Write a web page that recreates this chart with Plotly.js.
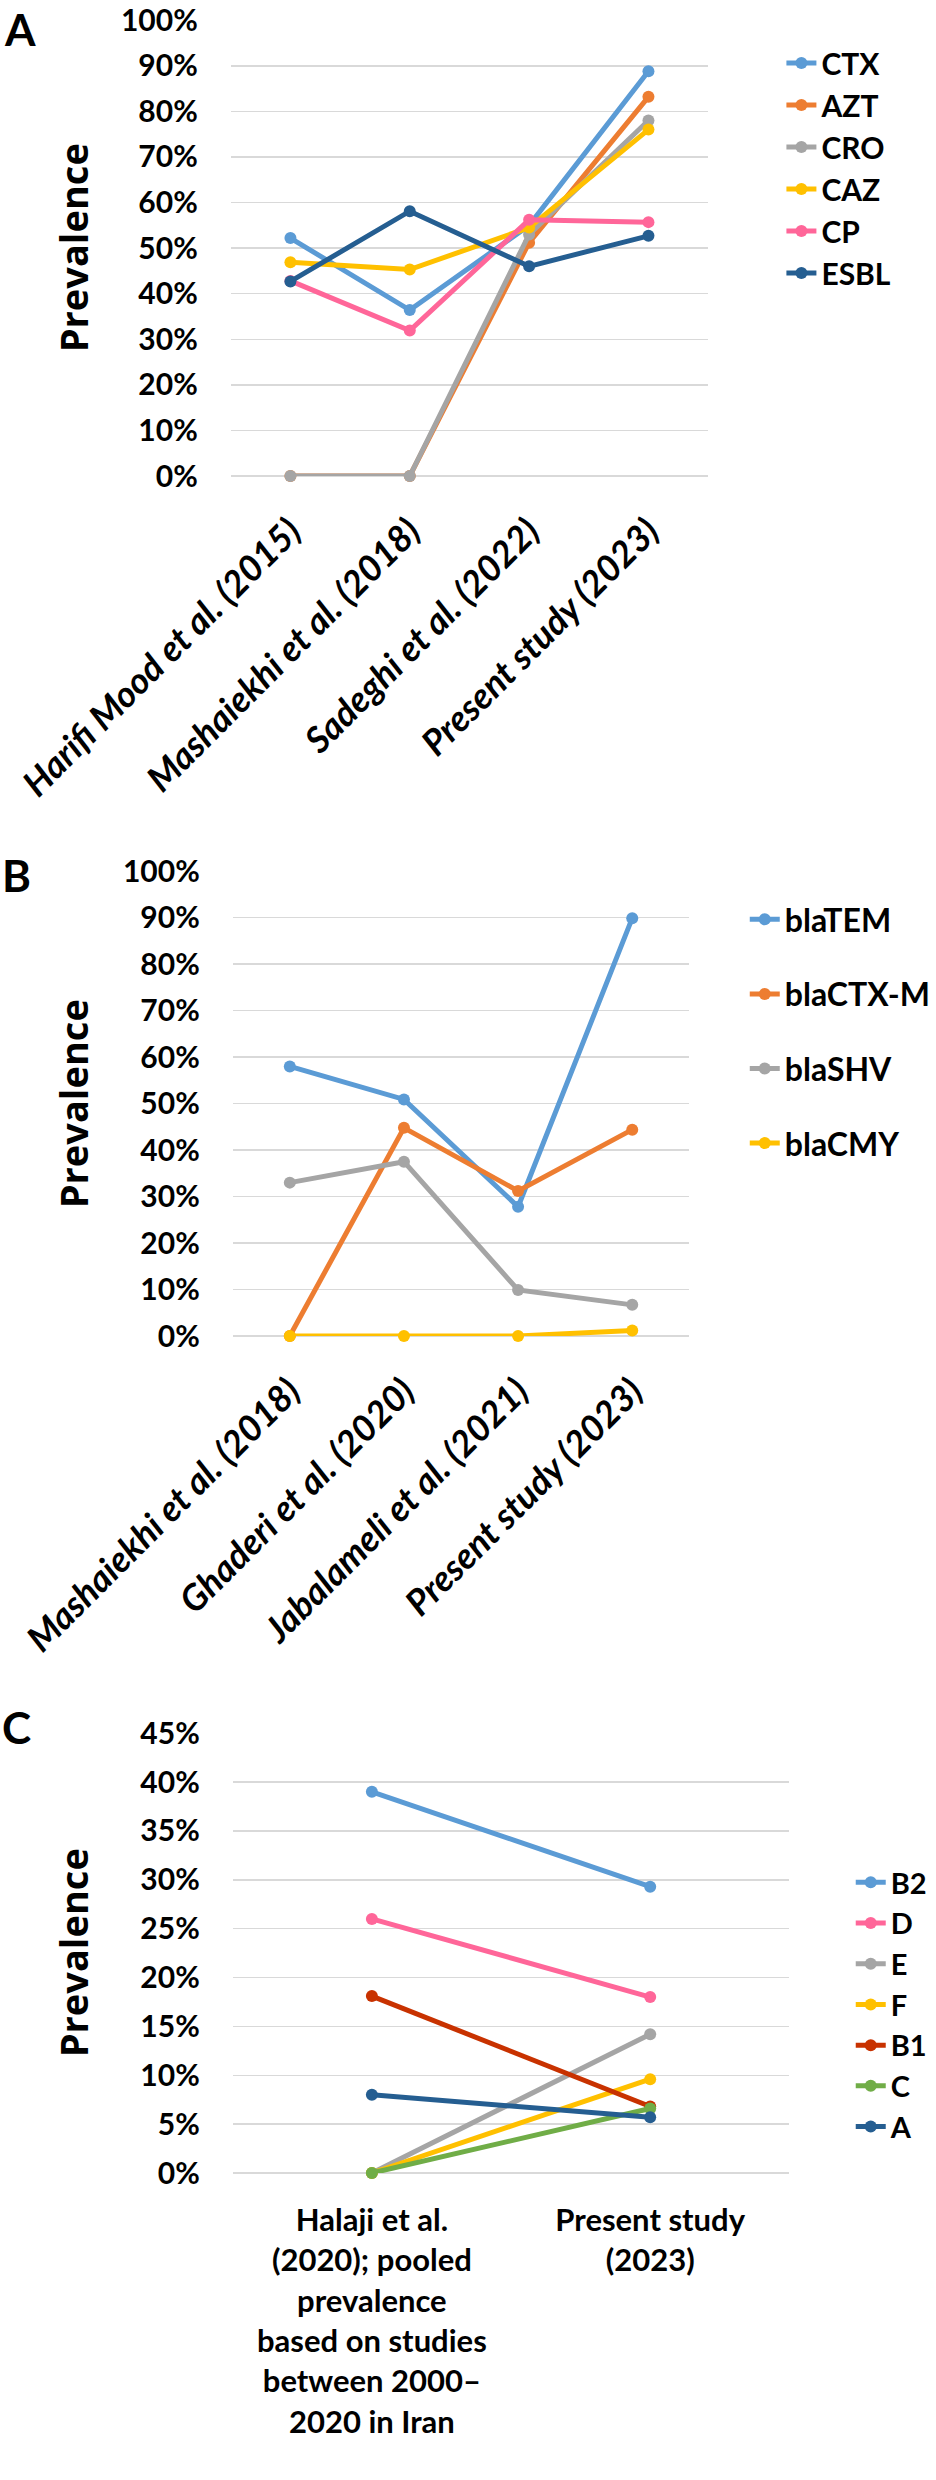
<!DOCTYPE html>
<html>
<head>
<meta charset="utf-8">
<script src="https://cdn.plot.ly/plotly-3.0.1.min.js"></script>
<style>html,body{margin:0;padding:0;background:#fff}</style>
</head>
<body>
<div id="chart" style="width:936px;height:2480px"></div>
<script>
// ---------- Panel A data ----------
const catsA = ['Harifi Mood et al. (2015)', 'Mashaiekhi et al. (2018)', 'Sadeghi et al. (2022)', 'Present study (2023)'];
const namesA = ['CTX', 'AZT', 'CRO', 'CAZ', 'CP', 'ESBL'];
const CTX  = [0.522, 0.364, 0.55, 0.888];
const AZT  = [0, 0, 0.512, 0.832];
const CRO  = [0, 0, 0.53, 0.78];
const CAZ  = [0.469, 0.453, 0.545, 0.76];
const CP   = [0.428, 0.319, 0.562, 0.557];
const ESBL = [0.427, 0.581, 0.46, 0.527];
const valuesA = [CTX, AZT, CRO, CAZ, CP, ESBL];
const colorsA = ['#5B9BD5', '#ED7D31', '#A5A5A5', '#FFC000', '#FF6699', '#255E91'];

// ---------- Panel B data ----------
const catsB = ['Mashaiekhi et al. (2018)', 'Ghaderi et al. (2020)', 'Jabalameli et al. (2021)', 'Present study (2023)'];
const namesB = ['blaTEM', 'blaCTX-M', 'blaSHV', 'blaCMY'];
const blaTEM  = [0.58, 0.509, 0.278, 0.899];
const blaCTXM = [0, 0.448, 0.312, 0.444];
const blaSHV  = [0.33, 0.375, 0.099, 0.067];
const blaCMY  = [0, 0, 0, 0.012];
const valuesB = [blaTEM, blaCTXM, blaSHV, blaCMY];
const colorsB = ['#5B9BD5', '#ED7D31', '#A5A5A5', '#FFC000'];

// ---------- Panel C data ----------
const catsC = ['Halaji et al.<br>(2020); pooled<br>prevalence<br>based on studies<br>between 2000–<br>2020 in Iran', 'Present study<br>(2023)'];
const namesC = ['B2', 'D', 'E', 'F', 'B1', 'C', 'A'];
const gB2 = [0.39, 0.293];
const gD  = [0.26, 0.18];
const gE  = [0, 0.142];
const gF  = [0, 0.096];
const gB1 = [0.181, 0.068];
const gC  = [0, 0.066];
const gA  = [0.080, 0.057];
const valuesC = [gB2, gD, gE, gF, gB1, gC, gA];
const colorsC = ['#5B9BD5', '#FF6699', '#A5A5A5', '#FFC000', '#C83200', '#70AD47', '#255E91'];

// ---------- layout helpers ----------
const W = 936, H = 2480;
const fx = p => p / W;
const fy = p => 1 - p / H;
const FONT = 'Lato, "Open Sans", sans-serif';

function makeTraces(cats, names, values, colors, xa, ya, legend, grouped) {
  return names.map((n, i) => ({
    type: 'scatter', mode: 'lines+markers',
    x: cats, y: values[i], name: n,
    xaxis: xa, yaxis: ya, legend: legend,
    legendgroup: grouped ? legend + n : undefined,
    line: {color: colors[i], width: 5},
    marker: {color: colors[i], size: 12},
    cliponaxis: false,
    hoverinfo: 'skip'
  }));
}

const data = [].concat(
  makeTraces(catsA, namesA, valuesA, colorsA, 'x', 'y', 'legend', false),
  makeTraces(catsB, namesB, valuesB, colorsB, 'x2', 'y2', 'legend2', true),
  makeTraces(catsC, namesC, valuesC, colorsC, 'x3', 'y3', 'legend3', false)
);

const yBase = {
  tickformat: '.0%', gridcolor: '#D9D9D9', gridwidth: 1.5,
  zeroline: true, zerolinecolor: '#D9D9D9', zerolinewidth: 1.5,
  showline: false, ticks: '', ticklabelstandoff: 32, tick0: 0,
  ticklabeloverflow: 'allow',
  tickfont: {family: FONT, size: 30, color: '#000', weight: 'bold'},
  fixedrange: true
};
const xBase = {
  type: 'category', showgrid: false, zeroline: false, showline: false, ticks: '',
  ticklabeloverflow: 'allow',
  fixedrange: true
};
const legBase = {
  xanchor: 'left', yanchor: 'top', bgcolor: 'rgba(0,0,0,0)', borderwidth: 0,
  font: {family: FONT, size: 30, color: '#000', weight: 'bold'},
  itemclick: false, itemdoubleclick: false
};
const rotFont = {family: FONT, size: 36, color: '#000', weight: 'bold', style: 'italic'};

const layout = {
  width: W, height: H,
  margin: {l: 0, r: 0, t: 0, b: 0},
  paper_bgcolor: '#fff', plot_bgcolor: 'rgba(0,0,0,0)',
  showlegend: true,
  font: {family: FONT, color: '#000'},
  xaxis: Object.assign({}, xBase, {
    domain: [fx(233), fx(715)], anchor: 'y', range: [-0.5, 3.5], tickangle: -45,
    ticklabelstandoff: 26, tickfont: rotFont
  }),
  yaxis: Object.assign({}, yBase, {domain: [fy(476), fy(20)], anchor: 'x', range: [0, 1.0005], dtick: 0.1}),
  xaxis2: Object.assign({}, xBase, {
    domain: [fx(235), fx(696)], anchor: 'y2', range: [-0.5, 3.5], tickangle: -45,
    ticklabelstandoff: 26, tickfont: rotFont
  }),
  yaxis2: Object.assign({}, yBase, {domain: [fy(1336), fy(871)], anchor: 'x2', range: [0, 1.0005], dtick: 0.1}),
  xaxis3: Object.assign({}, xBase, {
    domain: [fx(235), fx(797)], anchor: 'y3', range: [-0.5, 1.5], tickangle: 0,
    ticklabelstandoff: 26,
    tickfont: {family: FONT, size: 31, color: '#000', weight: 'bold'}
  }),
  yaxis3: Object.assign({}, yBase, {domain: [fy(2173), fy(1733)], anchor: 'x3', range: [0, 0.4502], dtick: 0.05}),
  legend: Object.assign({}, legBase, {x: fx(789), y: fy(37)}),
  legend2: Object.assign({}, legBase, {x: fx(752), y: fy(892), tracegroupgap: 30,
    font: {family: FONT, size: 32, color: '#000', weight: 'bold'}}),
  legend3: Object.assign({}, legBase, {x: fx(859), y: fy(1857),
    font: {family: FONT, size: 29, color: '#000', weight: 'bold'}}),
  annotations: [
    {text: 'A', x: fx(20), y: fy(1)},
    {text: 'B', x: fx(17), y: fy(847)},
    {text: 'C', x: fx(17), y: fy(1699)}
  ].map(a => Object.assign(a, {
    xref: 'paper', yref: 'paper', xanchor: 'center', yanchor: 'top', showarrow: false,
    font: {family: FONT, size: 44, color: '#000', weight: 'bold'}
  })).concat([
    {y: fy(248)}, {y: fy(1104)}, {y: fy(1953)}
  ].map(a => Object.assign(a, {
    text: 'Prevalence', textangle: -90, x: fx(74),
    xref: 'paper', yref: 'paper', xanchor: 'center', yanchor: 'middle', showarrow: false,
    font: {family: '"Open Sans", sans-serif', size: 38, color: '#000', weight: 'bold'}
  })))
};

Plotly.newPlot('chart', data, layout, {staticPlot: true, displayModeBar: false});
</script>
</body>
</html>
